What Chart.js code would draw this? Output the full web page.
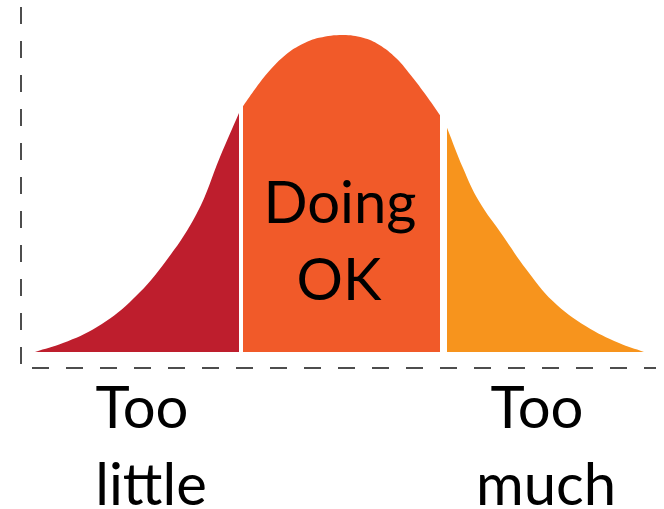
<!DOCTYPE html>
<html>
<head>
<meta charset="utf-8">
<script src="https://cdn.jsdelivr.net/npm/chart.js@4.4.1/dist/chart.umd.min.js"></script>
<style>
  html, body { margin: 0; padding: 0; background: #ffffff; }
  #wrap { width: 664px; height: 509px; position: relative; }
</style>
</head>
<body>
<div id="wrap"><canvas id="c" width="664" height="509"></canvas></div>
<script>
// Curve: x in standard-deviation units, y as % of peak height
const tooLittleX = [-3.08, -2.80, -2.46, -2.13, -1.80, -1.46, -1.23, -1.04];
const tooLittleY = [0, 2.8, 7.9, 15.8, 27.4, 43.8, 61.5, 75.4];
const doingOkX = [-1.00, -0.87, -0.74, -0.57, -0.40, -0.24, 0, 0.20, 0.36, 0.53, 0.70, 0.85, 0.97];
const doingOkY = [77.5, 83.3, 88.5, 93.8, 97.2, 99.1, 100, 99.1, 96.9, 92.7, 86.4, 80.1, 74.7];
const tooMuchX = [1.04, 1.20, 1.36, 1.60, 1.83, 2.10, 2.43, 2.76, 3.01];
const tooMuchY = [70.7, 58.0, 47.5, 36.6, 26.2, 16.0, 8.1, 2.8, 0];

const bottomLabels = [["Too", "little"], ["Too", "much"]];
const middleLabel = ["Doing", "OK"];

function pts(xs, ys) { return xs.map((x, i) => ({ x: x, y: ys[i] })); }

const FONT = '58px Lato, "Open Sans", sans-serif';

const textPlugin = {
  id: 'textLabels',
  afterDraw(chart) {
    const ctx = chart.ctx;
    const xs = chart.scales.x;
    ctx.save();
    ctx.fillStyle = '#000000';
    ctx.font = FONT;
    ctx.textAlign = 'center';
    ctx.textBaseline = 'alphabetic';
    const anchors = [-1.92, 2.03];
    bottomLabels.forEach((lines, i) => {
      const cx = xs.getPixelForValue(anchors[i]);
      ctx.fillText(lines[0], cx - 9, 428);
      ctx.fillText(lines[1], cx, 505);
    });
    const mx = xs.getPixelForValue(-0.03);
    ctx.fillText(middleLabel[0], mx, 223);
    ctx.fillText(middleLabel[1], mx - 1, 300);
    ctx.restore();
  }
};

const common = {
  fill: 'origin',
  borderWidth: 0,
  pointRadius: 0,
  tension: 0.4
};

const X_MIN = -3.22, X_MAX = 3.13, Y_MIN = -5.05, Y_MAX = 108.8;

new Chart(document.getElementById('c'), {
  type: 'line',
  data: {
    datasets: [
      Object.assign({ label: 'Too little', data: pts(tooLittleX, tooLittleY), backgroundColor: '#BE1E2D', borderColor: '#BE1E2D' }, common),
      Object.assign({ label: 'Doing OK', data: pts(doingOkX, doingOkY), backgroundColor: '#F15A29', borderColor: '#F15A29' }, common),
      Object.assign({ label: 'Too much', data: pts(tooMuchX, tooMuchY), backgroundColor: '#F7941D', borderColor: '#F7941D' }, common)
    ]
  },
  options: {
    responsive: false,
    animation: false,
    devicePixelRatio: 1,
    layout: { padding: { left: 21, top: 7, right: 8, bottom: 141 } },
    plugins: { legend: { display: false }, tooltip: { enabled: false } },
    scales: {
      x: {
        type: 'linear',
        min: X_MIN, max: X_MAX,
        afterBuildTicks: (s) => { s.ticks = [{ value: X_MIN }]; },
        grid: { display: true, drawTicks: false, color: '#4d4d4d', lineWidth: 2 },
        ticks: { display: false },
        border: { display: false, dash: [17, 17], dashOffset: 0 }
      },
      y: {
        type: 'linear',
        min: Y_MIN, max: Y_MAX,
        afterBuildTicks: (s) => { s.ticks = [{ value: Y_MIN }]; },
        grid: { display: true, drawTicks: false, color: '#4d4d4d', lineWidth: 2 },
        ticks: { display: false },
        border: { display: false, dash: [17, 17], dashOffset: 23 }
      }
    }
  },
  plugins: [textPlugin]
});
</script>
</body>
</html>
